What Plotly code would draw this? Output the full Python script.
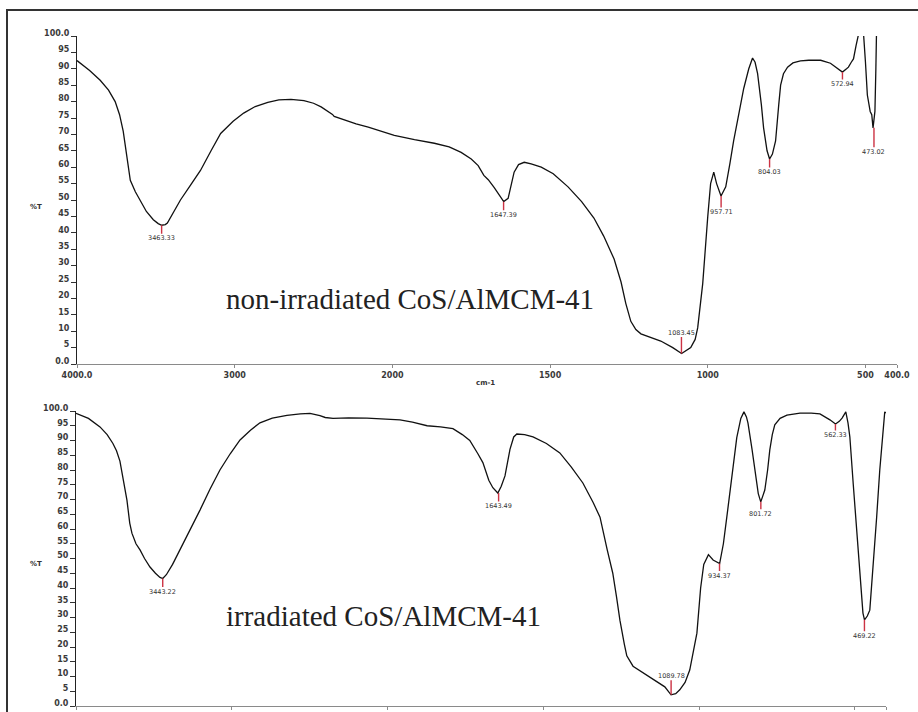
import plotly.graph_objects as go

W, H = 918, 712

# ---------------- data (wavenumber in cm-1, transmittance %T) ----------------
top_wn = [4000, 3920, 3853, 3800, 3758, 3730, 3707, 3680, 3662, 3630, 3599, 3560, 3516, 3485,
          3463, 3440, 3427, 3390, 3344, 3280, 3217, 3150, 3089, 3010, 2943, 2870, 2790, 2720,
          2643, 2561, 2500, 2452, 2400, 2380, 2369, 2300, 2230, 2153, 2080, 1994, 1930, 1867,
          1820, 1782, 1750, 1728, 1710, 1696, 1677, 1665, 1647, 1633, 1625, 1614, 1600, 1582,
          1560, 1528, 1490, 1443, 1400, 1361, 1330, 1297, 1275, 1260, 1244, 1228, 1212, 1180,
          1149, 1111, 1083, 1054, 1040, 1032, 1016, 1000, 991, 981, 972, 958, 943, 930, 918,
          900, 886, 870, 858, 850, 842, 830, 823, 812, 804, 795, 785, 775, 769, 760, 747, 730,
          706, 680, 642, 611, 590, 573, 560, 554, 545, 538, 530, 522, 515, 506, 500, 494, 485,
          480, 476, 473, 470, 467, 465]
top_T = [92.5, 89.5, 86.5, 83.5, 80, 76, 71, 62, 56, 52.5, 49.8, 46.5, 44, 42.8,
         42.3, 42.5, 43, 46, 50, 54.5, 59, 65, 70.3, 74, 76.5, 78.5, 79.8, 80.5,
         80.7, 80.3, 79.5, 78.4, 76.9, 76.1, 75.5, 74.3, 73.2, 72.2, 71, 69.7, 68.4, 67.3,
         66.2, 64.5, 62.5, 60.5, 57.5, 56.2, 53.8, 52, 49.5, 50.5, 54, 58.5, 60.8, 61.5,
         61, 60, 58, 54, 49.5, 44.5, 39, 32, 25, 18.5, 13, 10.5, 9.2, 8,
         7, 5, 3.2, 5, 7.5, 11, 24.5, 45, 55, 58.5, 55, 51.2, 54, 61, 68,
         77, 84, 90, 93.3, 92, 88.5, 79, 72, 65, 62.5, 64, 68, 79, 85, 88.5, 90.5, 91.8,
         92.4, 92.6, 92.6, 91.7, 90.3, 89, 90, 90.5, 92, 93, 97, 100.5, 101, 100.5, 92, 82, 77,
         76, 72, 74, 77, 90, 101]

bot_wn = [4000, 3920, 3846, 3800, 3763, 3740, 3718, 3695, 3673, 3655, 3641, 3615, 3589, 3560,
          3525, 3490, 3461, 3443, 3420, 3380, 3332, 3270, 3204, 3140, 3076, 3010, 2947, 2880,
          2819, 2740, 2646, 2560, 2498, 2434, 2400, 2350, 2250, 2132, 2050, 1960, 1920, 1873,
          1830, 1790, 1760, 1736, 1710, 1694, 1675, 1662, 1646, 1635, 1623, 1607, 1595, 1585,
          1560, 1533, 1490, 1447, 1410, 1373, 1340, 1318, 1295, 1277, 1265, 1254, 1240, 1232,
          1212, 1190, 1160, 1135, 1110, 1090, 1075, 1062, 1045, 1030, 1007, 995, 985, 970, 955,
          934, 922, 911, 895, 879, 866, 856, 848, 843, 830, 821, 810, 802, 795, 789, 780, 773,
          765, 757, 740, 718, 676, 640, 612, 595, 580, 562, 550, 541, 529, 522, 516, 505, 494,
          484, 474, 469, 460, 452, 440, 430, 420, 410, 404, 400]
bot_T = [99.2, 97.5, 94.6, 92, 89, 86.5, 83, 76, 69.8, 62, 58.6, 55, 52.9, 50,
         47.1, 45, 43.6, 43.2, 44.5, 48, 52.9, 59.5, 66.4, 73.5, 80, 85.5, 90.2, 93.5,
         96, 97.6, 98.5, 99, 99.2, 98.4, 97.8, 97.5, 97.7, 97.6, 97.3, 97, 96.2, 95,
         94.6, 94, 92, 90, 85.5, 82.5, 76.5, 74, 72.2, 74.5, 78, 87, 91.2, 92.2,
         92, 91.2, 89, 85.8, 81, 75.6, 69, 64, 53, 45, 37, 29, 21, 17,
         13.5, 12, 10, 8.5, 6.5, 3.8, 4.2, 5.5, 8, 12.2, 24.7, 40, 48, 51.3, 49.5,
         48.3, 55, 64, 78, 91, 97.5, 99.7, 98, 95.9, 87, 80, 72, 69.2, 71, 73.2, 80, 86.8,
         92, 95.3, 97.5, 98.6, 99.3, 99.3, 99, 98, 97, 95.6, 96.5, 97.6, 99.7, 96, 91.2, 75, 58.6,
         45, 31.5, 29.2, 30.5, 32.5, 48, 64, 80, 92.5, 99.7, 99.3]

top_peak_wn = [3463.33, 1647.39, 1083.45, 957.71, 804.03, 572.94, 473.02]
top_peak_T = [42.3, 49.5, 3.2, 51.2, 62.5, 89.0, 72.0]
top_peak_lbl = ["3463.33", "1647.39", "1083.45", "957.71", "804.03", "572.94", "473.02"]

bot_peak_wn = [3443.22, 1643.49, 1089.78, 934.37, 801.72, 562.33, 469.22]
bot_peak_T = [43.2, 72.2, 3.8, 48.3, 69.2, 95.6, 29.2]
bot_peak_lbl = ["3443.22", "1643.49", "1089.78", "934.37", "801.72", "562.33", "469.22"]

x_tick_wn = [4000, 3000, 2000, 1500, 1000, 500, 400]
x_tick_text = ["4000.0", "3000", "2000", "1500", "1000", "500", "400.0"]
y_tick_vals = [0, 5, 10, 15, 20, 25, 30, 35, 40, 45, 50, 55, 60, 65, 70, 75, 80, 85, 90, 95, 100]
y_tick_text = ["0.0", "5", "10", "15", "20", "25", "30", "35", "40", "45", "50", "55", "60",
               "65", "70", "75", "80", "85", "90", "95", "100.0"]

label_top = "non-irradiated CoS/AlMCM-41"
label_bot = "irradiated CoS/AlMCM-41"


# Instrument abscissa: 4000-2000 cm-1 drawn at half the scale of 2000-400 cm-1
def u(w):
    return 4000 - w if w >= 2000 else 2000 + 2 * (2000 - w)


TICKFONT = dict(family="DejaVu Sans", size=8, color="#3a3a3a", weight="bold")
PEAKFONT = dict(family="DejaVu Sans", size=6.5, color="#333333")
SMALLBOLD = dict(family="DejaVu Sans", size=7, color="#333333", weight="bold")
RED = "#cc3344"

fig = go.Figure()
fig.add_trace(go.Scatter(x=[u(w) for w in top_wn], y=top_T, mode="lines",
                         line=dict(color="#111111", width=1.3), xaxis="x", yaxis="y",
                         hoverinfo="skip"))
fig.add_trace(go.Scatter(x=[u(w) for w in bot_wn], y=bot_T, mode="lines",
                         line=dict(color="#111111", width=1.3), xaxis="x2", yaxis="y2",
                         hoverinfo="skip"))

annotations = []


def peak_annots(wns, Ts, lbls, xr, yr, offsets):
    for w, t, l, off in zip(wns, Ts, lbls, offsets):
        annotations.append(dict(x=u(w), y=t, xref=xr, yref=yr, text=l, showarrow=True,
                                arrowhead=0, arrowwidth=1.4, arrowcolor=RED, ax=0, ay=off,
                                standoff=0, font=PEAKFONT, borderpad=0))


peak_annots(top_peak_wn, top_peak_T, top_peak_lbl, "x", "y", [13, 13, -21, 16, 13, 12, 24])
peak_annots(bot_peak_wn, bot_peak_T, bot_peak_lbl, "x2", "y2", [13, 13, -19, 12, 12, 11, 16])

annotations += [
    dict(x=28 / W, y=48, xref="paper", yref="y", text="%T", showarrow=False,
         xanchor="left", font=SMALLBOLD),
    dict(x=28 / W, y=48, xref="paper", yref="y2", text="%T", showarrow=False,
         xanchor="left", font=SMALLBOLD),
    dict(x=485 / W, y=(H - 383) / H, xref="paper", yref="paper", text="cm-1", showarrow=False,
         font=SMALLBOLD),
    dict(x=224 / W, y=(H - 299) / H, xref="paper", yref="paper", text=label_top,
         showarrow=False, xanchor="left", yanchor="middle",
         font=dict(family="Liberation Serif", size=29, color="#222222")),
    dict(x=224 / W, y=(H - 616) / H, xref="paper", yref="paper", text=label_bot,
         showarrow=False, xanchor="left", yanchor="middle",
         font=dict(family="Liberation Serif", size=29, color="#222222")),
]

xcommon = dict(range=[0, 5200], tickvals=[u(w) for w in x_tick_wn], ticktext=x_tick_text,
               showline=True, linecolor="#8a8a8a", linewidth=1, ticks="outside", ticklen=3,
               tickcolor="#8a8a8a", tickfont=TICKFONT, showgrid=False, zeroline=False,
               fixedrange=True, automargin=False)
ycommon = dict(range=[0, 100], tickvals=y_tick_vals, ticktext=y_tick_text, showline=True,
               linecolor="#222222", linewidth=1, ticks="outside", ticklen=5,
               tickcolor="#333333", tickfont=TICKFONT, showgrid=False, zeroline=False,
               ticklabelshift=-3, ticklabelstandoff=0, fixedrange=True, automargin=False)

fig.update_layout(
    width=W, height=H, autosize=False,
    margin=dict(l=0, r=0, t=0, b=0, pad=0, autoexpand=False),
    paper_bgcolor="white", plot_bgcolor="white",
    showlegend=False,
    xaxis=dict(xcommon, domain=[77 / W, 897 / W], anchor="y"),
    yaxis=dict(ycommon, domain=[(H - 364) / H, (H - 36) / H], anchor="x"),
    xaxis2=dict(xcommon, domain=[76 / W, 886 / W], anchor="y2", showticklabels=False),
    yaxis2=dict(ycommon, domain=[(H - 706) / H, (H - 411) / H], anchor="x2"),
    annotations=annotations,
    shapes=[dict(type="rect", xref="paper", yref="paper", x0=7 / W, x1=1.05,
                 y0=-0.05, y1=(H - 10) / H, line=dict(color="#333333", width=2))],
)

fig.write_html("out.html")
